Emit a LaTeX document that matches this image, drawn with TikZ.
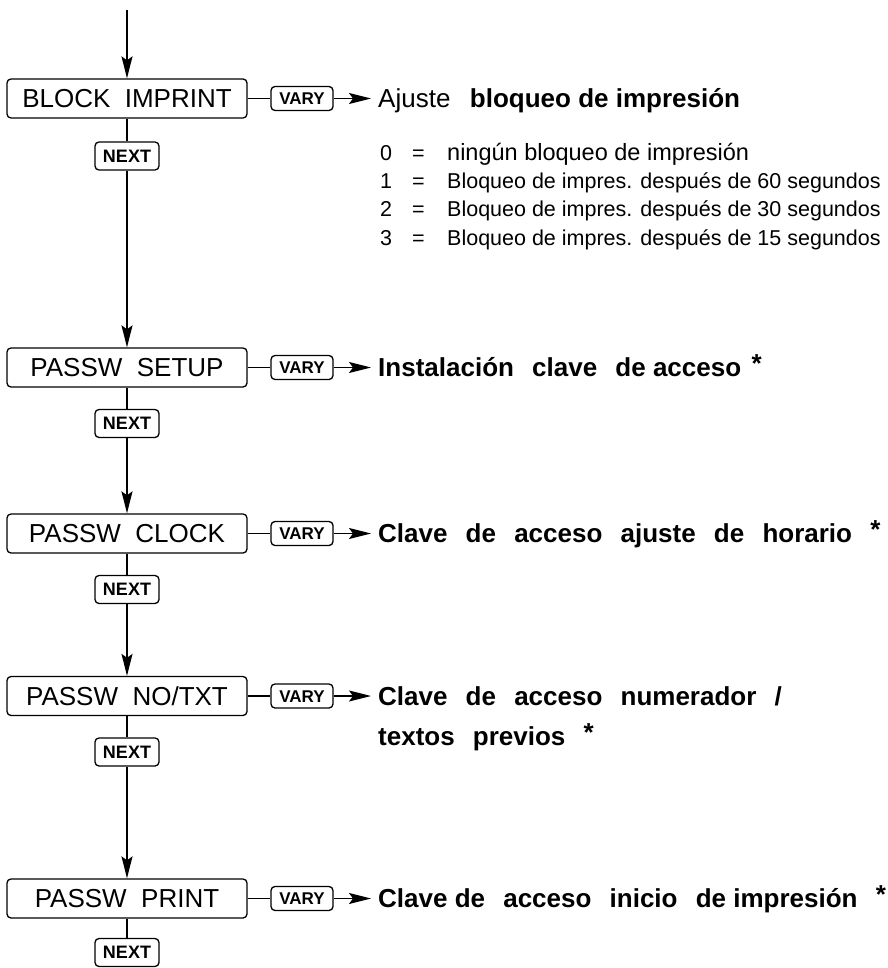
\documentclass[tikz,border=0pt]{standalone}
\usepackage{fontspec}
\setmainfont{Liberation Sans}
\usetikzlibrary{positioning,arrows.meta}
\tikzset{menu node/.style={draw,rounded corners=4pt,line width=1.3pt,minimum width=240pt,minimum height=39pt,inner sep=0pt,text height=18.6pt,text depth=0pt,font=\fontsize{26}{31}\selectfont}}
\tikzset{next node/.style={draw,rounded corners=4pt,line width=1.3pt,minimum width=64pt,minimum height=28pt,inner sep=0pt,text height=12.9pt,text depth=0pt,font=\bfseries\fontsize{18}{21}\selectfont}}
\tikzset{vary node/.style={draw,rounded corners=4pt,line width=1.3pt,minimum width=62pt,minimum height=24pt,inner sep=0pt,text height=12.2pt,text depth=0pt,font=\bfseries\fontsize{17}{20}\selectfont}}
\tikzset{desc node/.style={anchor=west,inner xsep=7pt,inner ysep=0pt,text height=18.6pt,text depth=0pt,font=\bfseries\fontsize{26}{31}\selectfont}}
\tikzset{opt node/.style={anchor=west,inner xsep=9pt,inner ysep=0pt,font=\fontsize{21.5}{26}\selectfont}}
\tikzset{flow/.style={draw,line width=1.6pt,-{Stealth[length=22pt,width=11pt,inset=4pt]}}}
\newcommand{\wsp}{\hspace{0.7em}}
\newcommand{\starmark}{\raisebox{4pt}{*}}
\newcommand{\optrow}[2]{\makebox[32pt][l]{#1}\makebox[35pt][l]{=}#2}

\begin{document}
\begin{tikzpicture}[x=1pt,y=-1pt,on grid]
        \useasboundingbox (0,0) rectangle (887,968);
        \coordinate (top) at (127,10);

        % menu steps
        \node[menu node] (1) at (127,98.5) {BLOCK~~IMPRINT};
        \node[next node] (n1) [below = 57.5pt of 1] {NEXT};
        \node[menu node] (2) [below = 211.5pt of n1] {PASSW~~SETUP};
        \node[next node] (n2) [below = 56pt of 2] {NEXT};
        \node[menu node] (3) [below = 110pt of n2] {PASSW~~CLOCK};
        \node[next node] (n3) [below = 56pt of 3] {NEXT};
        \node[menu node] (4) [below = 106.5pt of n3] {PASSW~~NO/TXT};
        \node[next node] (n4) [below = 56pt of 4] {NEXT};
        \node[menu node] (5) [below = 146.5pt of n4] {PASSW~~PRINT};
        \node[next node] (n5) [below = 54pt of 5] {NEXT};

        % vary keys
        \node[vary node] (v1) [right = 175pt of 1] {VARY};
        \node[vary node] (v2) [right = 175pt of 2] {VARY};
        \node[vary node] (v3) [right = 175pt of 3] {VARY};
        \node[vary node] (v4) [right = 175pt of 4] {VARY};
        \node[vary node] (v5) [right = 175pt of 5] {VARY};

        % settings
        \node[desc node] (d1) [right = 69pt of v1, anchor=west] {{\mdseries Ajuste}\hspace{0.75em}bloqueo de impresión};
        \node[opt node] (o0) [below = 55.5pt of d1.west, anchor=west] {\optrow{0}{{\fontsize{23.5}{28}\selectfont ningún bloqueo de impresión}}};
        \node[opt node] (o1) [below = 28.5pt of o0.west, anchor=west] {\optrow{1}{Bloqueo de impres. después de 60 segundos}};
        \node[opt node] (o2) [below = 28.5pt of o1.west, anchor=west] {\optrow{2}{Bloqueo de impres. después de 30 segundos}};
        \node[opt node] (o3) [below = 28.5pt of o2.west, anchor=west] {\optrow{3}{Bloqueo de impres. después de 15 segundos}};
        \node[desc node] (d2) [right = 69pt of v2, anchor=west] {Instalación\wsp clave\wsp de acceso\hspace{0.4em}\starmark};
        \node[desc node] (d3) [right = 69pt of v3, anchor=west] {Clave\wsp de\wsp acceso\wsp ajuste\wsp de\wsp horario\wsp \starmark};
        \node[desc node] (d4) [right = 69pt of v4, anchor=west] {Clave\wsp de\wsp acceso\wsp numerador\wsp /};
        \node[desc node] (d4b) [below = 40pt of d4.west, anchor=west] {textos\wsp previos\wsp \starmark};
        \node[desc node] (d5) [right = 69pt of v5, anchor=west] {Clave de\wsp acceso\wsp inicio\wsp de impresión\wsp \starmark};

        \path[draw, line width=1.6pt]
        (1) edge (n1)
        (2) edge (n2)
        (3) edge (n3)
        (4) edge (n4)
        (5) edge (n5)
        (1) edge (v1)
        (2) edge (v2)
        (3) edge (v3)
        (4) edge (v4)
        (5) edge (v5);

        \path
        (top) edge[flow] (1)
        (n1) edge[flow] (2)
        (n2) edge[flow] (3)
        (n3) edge[flow] (4)
        (n4) edge[flow] (5)
        (v1) edge[flow] (d1)
        (v2) edge[flow] (d2)
        (v3) edge[flow] (d3)
        (v4) edge[flow] (d4)
        (v5) edge[flow] (d5);
    \end{tikzpicture}
\end{document}
